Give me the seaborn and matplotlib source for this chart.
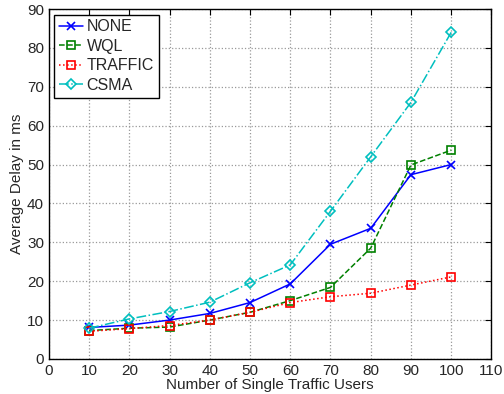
import pandas as pd
import matplotlib
matplotlib.use("Agg")
import matplotlib.pyplot as plt
import seaborn as sns

users = [10, 20, 30, 40, 50, 60, 70, 80, 90, 100]
none_delay = [8.1, 8.7, 10.0, 11.7, 14.5, 19.3, 29.5, 33.6, 47.4, 50.0]
wql_delay = [7.3, 7.9, 8.2, 10.0, 12.0, 15.0, 18.4, 28.5, 49.9, 53.7]
traffic_delay = [7.1, 7.8, 8.6, 10.0, 12.0, 14.5, 16.0, 16.9, 19.0, 21.1]
csma_delay = [7.9, 10.3, 12.2, 14.6, 19.6, 24.2, 38.0, 52.0, 66.0, 84.0]

sns.set_style("white")
plt.rcParams['font.family'] = ['Liberation Sans', 'DejaVu Sans']

fig, ax = plt.subplots(figsize=(5.04, 3.94), dpi=100)
fig.subplots_adjust(left=0.097, right=0.975, top=0.977, bottom=0.089)

series = [
    ("NONE", none_delay, (0, 0, 1), "-", "x", 5.5),
    ("WQL", wql_delay, (0, 0.5, 0), "--", "s", 5.5),
    ("TRAFFIC", traffic_delay, (1, 0, 0), ":", "s", 5.5),
    ("CSMA", csma_delay, (0, 0.75, 0.75), "-.", "D", 5.5),
]
for name, vals, col, ls, mk, ms in series:
    sns.lineplot(x=users, y=vals, ax=ax, color=col, linestyle=ls, marker=mk,
                 markersize=ms, markerfacecolor='none', markeredgecolor=col,
                 markeredgewidth=1.2, linewidth=1.1, label=name)

ax.set_xlim(0, 110)
ax.set_ylim(0, 90)
ax.set_xticks(range(0, 111, 10))
ax.set_yticks(range(0, 91, 10))
ax.grid(True, linestyle=':', color='#999999', linewidth=0.9)
ax.tick_params(direction='in', top=True, right=True, labelsize=11, length=4, color='black')
for s in ax.spines.values():
    s.set_color('black')
    s.set_linewidth(1.0)
ax.set_xlabel("Number of Single Traffic Users", fontsize=11, labelpad=0)
ax.set_ylabel("Average Delay in ms", fontsize=11, labelpad=2)

leg = ax.legend(loc='upper left', fontsize=11.5, frameon=True, fancybox=False,
                edgecolor='black', framealpha=1, handlelength=1.5,
                borderaxespad=0.35, labelspacing=0.28, handletextpad=0.2,
                borderpad=0.3)
leg.get_frame().set_linewidth(1.0)

fig.savefig("out.png", dpi=100)
